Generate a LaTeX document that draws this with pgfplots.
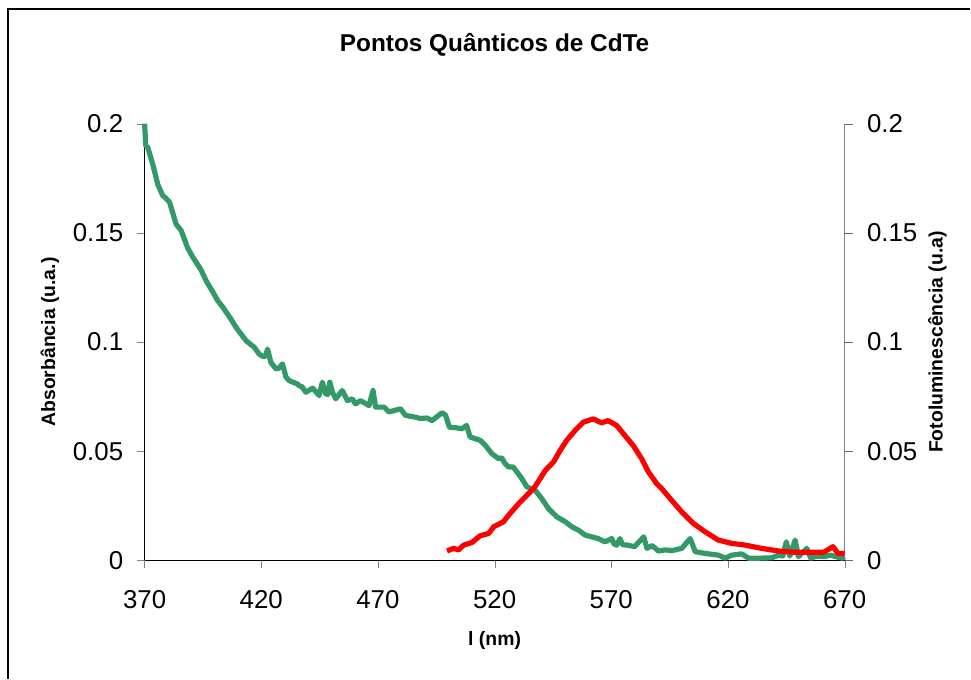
\documentclass[border=0pt]{standalone}
\usepackage{pgfplots}
\pgfplotsset{compat=1.18}
\usepackage{fontspec}
\setmainfont{Liberation Sans}
\definecolor{absgreen}{HTML}{339966}
\definecolor{plred}{HTML}{FF0000}
\newcommand{\labfont}{\bfseries\fontsize{19.5}{23}\selectfont}
\pgfplotsset{
  common/.style={
    at={(145bp,117bp)}, anchor=south west,
    scale only axis, width=702bp, height=438bp,
    xmin=370, xmax=670, ymin=0, ymax=0.2,
    clip=false,
    tick align=outside, major tick length=8bp,
    ytick={0,0.05,0.1,0.15,0.2},
    yticklabels={0,0.05,0.1,0.15,0.2},
    ticklabel style={font=\fontsize{26}{30}\selectfont},
    /pgf/number format/assume math mode=true,
  },
}
\begin{document}
\begin{tikzpicture}[x=1bp,y=1bp]
\path (0,0) rectangle (971,679);
\draw[line width=1.5bp] (8,-2) -- (8,670) -- (973,670);
\begin{axis}[common,
  axis x line*=bottom, axis y line*=left,
  xtick={370,420,470,520,570,620,670},
  xticklabels={370,420,470,520,570,620,670},
  xticklabel style={yshift=-19bp},
  yticklabel style={xshift=-10bp},
  every axis y label/.style={at={(axis description cs:-0.1353,0.5)}, anchor=center, rotate=90, font=\labfont},
  every axis x label/.style={at={(axis description cs:0.5,-0.1826)}, anchor=center, font=\labfont},
  every axis title/.style={at={(axis description cs:0.5,1.18)}, anchor=center, font=\bfseries\fontsize{24.5}{28}\selectfont},
  title={Pontos Quânticos de CdTe},
  xlabel={l (nm)},
  ylabel={Absorbância (u.a.)},
]
\addplot[absgreen, line width=5.2bp, line join=round] coordinates {
(370,0.200) (370.5,0.190) (371.4,0.189) (373.6,0.181) (375.7,0.172) (377.8,0.167)
(379,0.166) (380.7,0.164) (383.5,0.154) (385.7,0.151) (388.5,0.143) (390.6,0.139)
(394.2,0.133) (396.4,0.128) (399.2,0.123) (401.3,0.119) (403.5,0.116) (407,0.1105)
(409.2,0.1067) (413.5,0.1006) (417,0.0976) (419.1,0.0945) (420.5,0.0935) (421.8,0.0935)
(422.7,0.0968) (424.1,0.0907) (426.3,0.0877) (427.5,0.0880) (429.1,0.0900) (430.6,0.0839)
(432,0.0823) (435.5,0.0808) (436.2,0.0800) (437.5,0.0795) (439.1,0.0770) (442,0.0789)
(444.8,0.0755) (446.2,0.0816) (447.6,0.0763) (448.5,0.0760) (449.4,0.0816) (450.5,0.0770)
(451.9,0.0740) (454.7,0.0778) (456.9,0.0732) (459,0.0740) (460.4,0.0717) (462.5,0.0732)
(466.2,0.0709) (467.9,0.0778) (469,0.0702) (472.6,0.0702) (474.7,0.0680) (479.7,0.0694)
(481.8,0.0664) (486.1,0.0656) (488,0.0650) (491,0.0652) (493.2,0.0640) (495.5,0.0660)
(497.5,0.0676) (499,0.0665) (500.6,0.0610) (503,0.0608) (506,0.0603) (508,0.0618)
(509.5,0.0565) (513.8,0.0550) (516,0.0527) (518.8,0.0489) (521.7,0.0466) (523,0.0470)
(524.5,0.0443) (526,0.0428) (528,0.0428) (531.7,0.0374) (533.8,0.0337) (537.4,0.0321)
(540.2,0.0283) (543.1,0.0237) (546.6,0.0200) (550.3,0.0177) (553.1,0.0154) (556,0.0138)
(558.8,0.0116) (561.6,0.0108) (564.4,0.0100) (567.3,0.0085) (570.2,0.0100) (571.2,0.0075)
(572.3,0.0070) (573.7,0.0100) (574.8,0.0072) (577,0.0070) (580,0.0063) (581.5,0.0080)
(583.9,0.0108) (585.3,0.0055) (587.5,0.0068) (590.2,0.0043) (593,0.0048) (596,0.0045)
(600.2,0.0055) (603.8,0.0100) (606,0.0040) (610.2,0.0032) (616,0.0024) (618.8,0.0010)
(621.6,0.0024) (625.9,0.0030) (628.8,0.0010) (633,0.0010) (638.8,0.0012) (641.7,0.0024)
(643.5,0.0020) (645,0.0085) (646.5,0.0020) (648.8,0.0093) (650.2,0.0017) (653.8,0.0055)
(655.5,0.0010) (658,0.0020) (661.2,0.0017) (664,0.0024) (667,0.0015) (669,0.0010) (670,0.0017)
};
\end{axis}
\begin{axis}[common,
  axis x line=none, axis y line*=right,
  y axis line style={gray}, ytick style={gray!80!black},
  yticklabel style={xshift=11bp},
  every axis y label/.style={at={(axis description cs:1.1325,0.5)}, anchor=center, rotate=90, font=\labfont},
  ylabel={Fotoluminescência (u.a)},
]
\addplot[plred, line width=5.2bp, line join=round] coordinates {
(499.6,0.0043) (502.4,0.0055) (504.5,0.0048) (506.7,0.0070) (510.3,0.0082) (513.8,0.0113)
(517.4,0.0123) (519.6,0.0154) (523.8,0.0177) (526,0.0207) (530.3,0.0260) (533.8,0.0298)
(536.7,0.0329) (539.5,0.0374) (541.7,0.0412) (545.2,0.0450) (548.1,0.0504) (550.9,0.0550)
(554.5,0.0595) (558,0.0633) (562.3,0.0648) (565.8,0.0630) (568.7,0.0640) (572.3,0.0618)
(575.8,0.0572) (579.4,0.0526) (583,0.0466) (585.9,0.0405) (588,0.0374) (589.4,0.0352)
(591.6,0.0329) (595.9,0.0275) (600.2,0.0222) (605.2,0.0169) (610.2,0.0131) (615.9,0.0093)
(621.6,0.0078) (627.4,0.0070) (634.5,0.0055) (641.7,0.0043) (648.8,0.0037) (657.4,0.0037)
(661,0.0037) (665,0.0063) (667.1,0.0032) (670,0.0032)
};
\end{axis}
\end{tikzpicture}
\end{document}
